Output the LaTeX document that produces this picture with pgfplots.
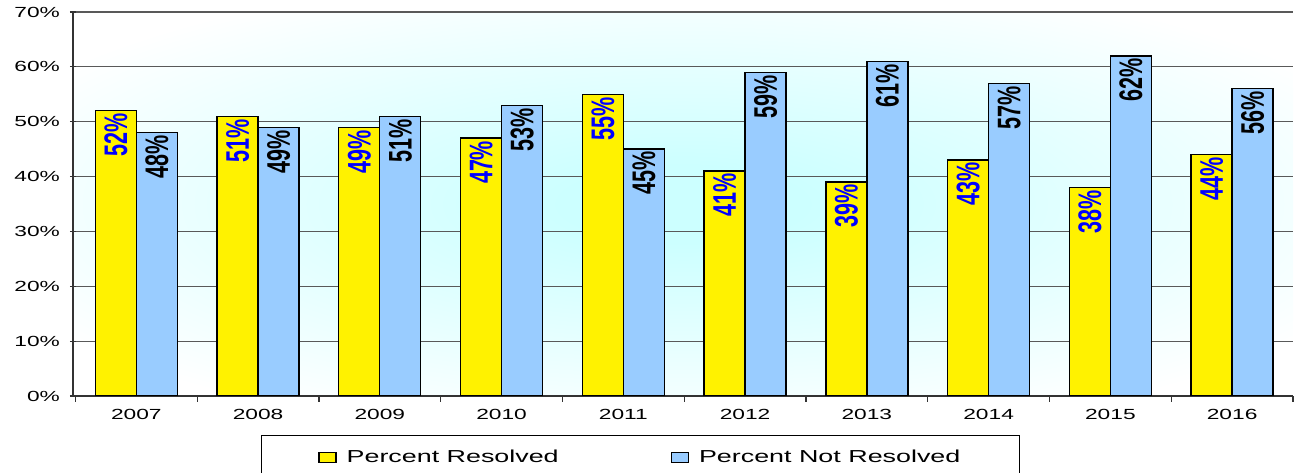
\documentclass[border=0pt]{standalone}
\usepackage{pgfplots}
\pgfplotsset{compat=1.18}
\usepackage{fontspec}
\setmainfont{Liberation Sans}
\newfontfamily\tickfont[FakeStretch=1.55]{Liberation Sans}
\newfontfamily\barfont[FakeStretch=0.66]{Liberation Sans}
\definecolor{bgc}{RGB}{204,255,255}
\definecolor{barblue}{RGB}{153,204,255}
\pgfdeclareradialshading{bgshade}{\pgfpointorigin}{color(0bp)=(bgc); color(5bp)=(bgc); color(18bp)=(bgc!50!white); color(31bp)=(white); color(50bp)=(white)}
\begin{document}
\begin{tikzpicture}
\begin{axis}[
  scale only axis, width=915pt, height=288pt,
  ymin=0, ymax=70, xmin=-0.52, xmax=9.5,
  ytick={0,10,...,70},
  yticklabel={\pgfmathprintnumber{\tick}\%},
  /pgf/number format/assume math mode=true,
  xtick={-0.5,0.5,...,9.5},
  x tick label as interval,
  xticklabels={2007,2008,2009,2010,2011,2012,2013,2014,2015,2016},
  tick align=outside, major tick length=4.5pt,
  tick style={black!80, line width=0.9pt},
  ymajorgrids, grid style={black!65, line width=0.9pt},
  axis lines=left, axis line style={-, black!80, line width=1.3pt},
  axis background/.style={shade, shading=bgshade},
  ticklabel style={font=\tickfont\fontsize{11}{11}\selectfont},
  yticklabel style={xshift=-4pt},
  xticklabel style={yshift=-2pt},
  ybar=0pt, bar width=30.75pt,
  nodes near coords={\pgfmathprintnumber{\pgfplotspointmeta}\%},
  every node near coord/.append style={rotate=90, anchor=east, inner sep=1.5pt,
     font=\barfont\bfseries\fontsize{24.5}{24.5}\selectfont},
  legend columns=2,
  legend image code/.code={\draw[#1] (0pt,-3.75pt) rectangle (12.75pt,3.75pt);
     \path (18.25pt,0pt);},
  legend style={at={(axis description cs:0.1541,-0.1016)}, anchor=north west,
     draw=black, line width=0.8pt, fill=white,
     font=\tickfont\fontsize{13}{13}\selectfont,
     inner xsep=42.6pt, inner ysep=9pt,
     /tikz/every even column/.append style={column sep=82pt}},
]
\addplot[fill=yellow, draw=black, line width=1pt, nodes near coords style={text=blue}]
  coordinates {(0,52) (1,51) (2,49) (3,47) (4,55) (5,41) (6,39) (7,43) (8,38) (9,44)};
\addplot[fill=barblue, draw=black, line width=1pt, nodes near coords style={text=black}]
  coordinates {(0,48) (1,49) (2,51) (3,53) (4,45) (5,59) (6,61) (7,57) (8,62) (9,56)};
\legend{Percent Resolved, Percent Not Resolved}
\end{axis}
\pgfresetboundingbox
\path ([xshift=-54.75pt,yshift=-57.75pt]current axis.south west) rectangle ([xshift=0.75pt,yshift=9pt]current axis.north east);
\end{tikzpicture}
\end{document}
